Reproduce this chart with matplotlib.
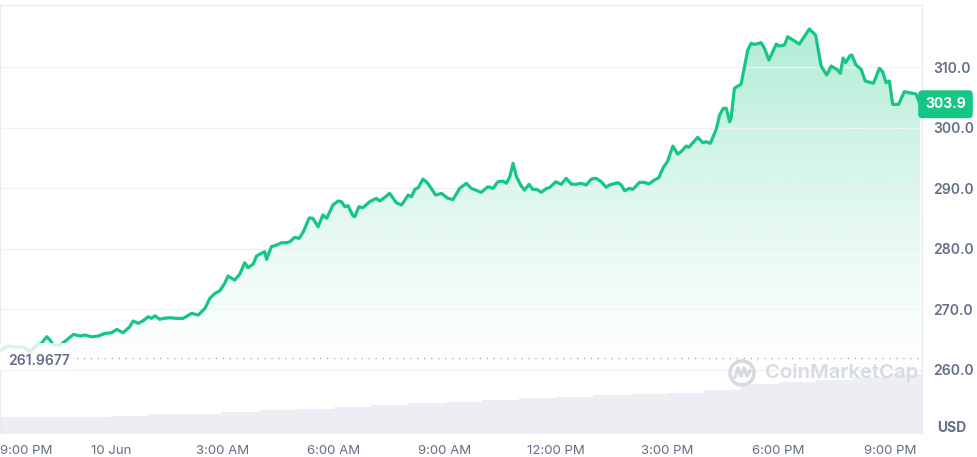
import numpy as np
import matplotlib.pyplot as plt
from matplotlib.patches import Polygon, Circle, Rectangle
from matplotlib.transforms import IdentityTransform, blended_transform_factory

plt.rcParams['font.family'] = ['Inter', 'DejaVu Sans']

# hours since 9:00 PM (9 Jun)
hours = [0.05, 0.13, 0.27, 0.45, 0.62, 0.81, 0.99, 1.12, 1.26, 1.35,
         1.44, 1.62, 1.80, 1.98, 2.16, 2.29, 2.47, 2.65, 2.83, 3.01,
         3.15, 3.32, 3.50, 3.59, 3.73, 3.86, 4.00, 4.09, 4.18, 4.31,
         4.40, 4.58, 4.76, 4.94, 5.17, 5.35, 5.53, 5.66, 5.80, 5.93,
         6.06, 6.15, 6.33, 6.47, 6.60, 6.69, 6.83, 6.92, 7.05, 7.14,
         7.19, 7.32, 7.46, 7.59, 7.73, 7.82, 7.95, 8.07, 8.18, 8.34,
         8.44, 8.58, 8.71, 8.81, 8.98, 9.12, 9.21, 9.30, 9.39, 9.52,
         9.57, 9.68, 9.79, 9.97, 10.15, 10.24, 10.38, 10.51, 10.69, 10.83,
         11.01, 11.10, 11.19, 11.28, 11.41, 11.54, 11.75, 11.91, 12.08, 12.22,
         12.40, 12.58, 12.71, 12.98, 13.16, 13.30, 13.43, 13.57, 13.66, 13.75,
         13.84, 13.93, 14.06, 14.15, 14.27, 14.37, 14.48, 14.60, 14.74, 14.82,
         14.99, 15.14, 15.27, 15.41, 15.54, 15.68, 15.81, 15.95, 16.08, 16.22,
         16.35, 16.44, 16.53, 16.67, 16.76, 16.85, 16.98, 17.07, 17.25, 17.39,
         17.50, 17.65, 17.77, 17.88, 18.01, 18.15, 18.28, 18.37, 18.51, 18.58,
         18.69, 18.82, 18.96, 19.05, 19.16, 19.32, 19.41, 19.51, 19.59, 19.68,
         19.72, 19.81, 19.99, 20.17, 20.26, 20.35, 20.53, 20.62, 20.74, 20.94,
         21.02, 21.16, 21.25, 21.56, 21.83, 22.00, 22.15, 22.30, 22.42, 22.57,
         22.67, 22.74, 22.81, 22.93, 22.98, 23.09, 23.23, 23.34, 23.56, 23.72,
         23.81, 23.90, 23.99, 24.08, 24.24, 24.39, 24.53, 24.71, 24.82]
price = [263.27, 263.72, 263.93, 263.72, 263.82, 263.00, 264.10, 264.38, 265.47, 264.93,
         264.10, 264.10, 264.93, 265.87, 265.59, 265.75, 265.47, 265.59, 266.03, 266.13,
         266.69, 266.13, 267.12, 268.07, 267.69, 268.12, 268.78, 268.51, 268.94, 268.35,
         268.51, 268.61, 268.51, 268.51, 269.34, 269.06, 270.17, 271.82, 272.64, 273.07,
         274.30, 275.50, 274.84, 275.83, 277.70, 276.88, 277.49, 278.81, 279.26, 279.52,
         278.26, 280.35, 280.63, 281.01, 281.01, 281.17, 281.90, 281.74, 282.80, 285.10,
         285.04, 283.65, 285.59, 285.04, 287.24, 287.90, 287.79, 286.96, 287.12, 285.47,
         285.31, 286.96, 286.79, 287.79, 288.35, 287.90, 288.51, 289.17, 287.62, 287.24,
         288.89, 288.61, 289.83, 290.10, 291.54, 290.83, 288.89, 289.17, 288.35, 288.15,
         290.00, 290.83, 290.00, 289.34, 290.26, 290.00, 291.09, 291.21, 290.83, 291.92,
         294.13, 291.92, 290.38, 289.72, 290.66, 289.83, 289.83, 289.34, 290.00, 290.10,
         291.09, 290.66, 291.65, 290.71, 290.66, 290.83, 290.55, 291.54, 291.65, 291.09,
         290.17, 290.55, 290.71, 290.93, 290.55, 289.60, 290.00, 289.83, 290.99, 290.99,
         290.71, 291.37, 291.75, 293.31, 294.51, 296.99, 295.67, 296.05, 296.99, 296.78,
         297.54, 298.43, 297.54, 297.70, 297.44, 299.75, 302.12, 303.22, 303.22, 301.01,
         301.57, 306.53, 307.24, 312.86, 313.97, 313.77, 314.07, 313.14, 311.21, 313.85,
         313.52, 313.69, 315.06, 313.85, 316.33, 315.34, 310.21, 308.73, 310.21, 309.67,
         309.01, 311.54, 310.79, 311.95, 312.03, 310.38, 309.67, 307.74, 307.36, 309.83,
         309.27, 307.45, 307.74, 303.88, 303.88, 305.97, 305.80, 305.59, 303.90]

# hourly volume (relative units)
vol_start = list(range(25))
volume = [170, 170, 170, 180, 200, 205, 225, 240, 250, 270,
          290, 310, 320, 340, 360, 370, 390, 400, 410, 440,
          500, 520, 540, 570, 600]

open_price = 261.9677
last_price = 303.9
price_ticks = [260, 270, 280, 290, 300, 310]
time_ticks = [0, 3, 6, 9, 12, 15, 18, 21, 24]
time_labels = ['9:00 PM', '10 Jun', '3:00 AM', '6:00 AM', '9:00 AM',
               '12:00 PM', '3:00 PM', '6:00 PM', '9:00 PM']

green = '#16c784'
txt = '#616e85'
grid = '#eff2f5'

fig = plt.figure(figsize=(9.77, 4.57), dpi=100)
ax = fig.add_axes([0, 23 / 457, 922 / 977, 429 / 457])
axv = ax.twinx()
ax.set_zorder(2)
ax.patch.set_visible(False)
axv.set_zorder(1)

# volume
axv.bar(vol_start, volume, width=1.0, align='edge', color='#eceef3', lw=0)
axv.set_ylim(0, 4290)
axv.set_yticks([])
for s in axv.spines.values():
    s.set_visible(False)

xmax = 24.87
ylo, yhi = 249.4, 320.3

# gradient fill under the line
verts = list(zip(hours, price)) + [(hours[-1], ylo), (hours[0], ylo)]
poly = Polygon(verts, closed=True, fc='none', ec='none')
ax.add_patch(poly)
yy = np.linspace(ylo, yhi, 300)
t = np.clip((yy - 258) / (316 - 258), 0, 1)
rgba = np.zeros((300, 1, 4))
rgba[..., 0] = 0x16 / 255
rgba[..., 1] = 0xc7 / 255
rgba[..., 2] = 0x84 / 255
rgba[:, 0, 3] = 0.33 * t ** 1.3
img = ax.imshow(rgba, extent=[0, xmax, ylo, yhi], aspect='auto', origin='lower', zorder=1)
img.set_clip_path(poly)

ax.plot(hours, price, color=green, lw=2.3, zorder=3, solid_joinstyle='round')
ax.axhline(open_price, color='#bfa9b0', lw=1, ls=(0, (1, 4)), zorder=2)

ax.set_xlim(0, xmax)
ax.set_ylim(ylo, yhi)
ax.set_yticks(price_ticks)
ax.set_yticklabels([f'{v:.1f}' for v in price_ticks])
ax.yaxis.tick_right()
ax.tick_params(axis='y', length=0, pad=8, labelsize=10, labelcolor=txt)
ax.grid(axis='y', color=grid, lw=1)
ax.set_xticks(time_ticks)
ax.set_xticklabels(time_labels)
ax.tick_params(axis='x', length=0, pad=8, labelsize=9.5, labelcolor=txt)
ax.get_xticklabels()[0].set_ha('left')
for lab in ax.get_yticklabels():
    lab.set_fontweight('semibold')
for k in ['top', 'left', 'right']:
    ax.spines[k].set_color('#e8eaee')
ax.spines['bottom'].set_visible(False)

# open price label on a translucent box
bt = blended_transform_factory(ax.transAxes, ax.transData)
ax.add_patch(Rectangle((0, 259.97), 73 / 922, 4.46, transform=bt, fc='white', ec='none',
                       alpha=0.82, zorder=4))
ax.text(0.009, open_price - 0.5, f'{open_price:.4f}', transform=bt, ha='left', va='center',
        fontsize=10, fontweight='semibold', color=txt, zorder=5)

# last price badge
ax.text(1.0255, last_price, f'{last_price:.1f}', transform=bt, ha='center', va='center',
        fontsize=10, fontweight='bold', color='white', clip_on=False, zorder=6,
        bbox=dict(boxstyle='round,pad=0.5,rounding_size=0.3', fc=green, ec='none'))

fig.text(952 / 977, 1 - 428 / 457, 'USD', ha='center', va='center', fontsize=10,
         fontweight='bold', color=txt)

# watermark
wm = '#d6dae1'
fig.text(765 / 977, 1 - 373 / 457, 'CoinMarketCap', ha='left', va='center', fontsize=14.6,
         fontweight='semibold', color=wm, zorder=10)
fig.add_artist(Circle((742, 457 - 373), 12, transform=IdentityTransform(), fill=False,
                      ec=wm, lw=2.6, zorder=10))
fig.add_artist(plt.Line2D([735, 738, 741, 744, 747, 750], [80, 89, 81, 89, 81, 86],
                          transform=IdentityTransform(), color=wm, lw=2.4, zorder=10))

fig.savefig('out.png', dpi=100)
